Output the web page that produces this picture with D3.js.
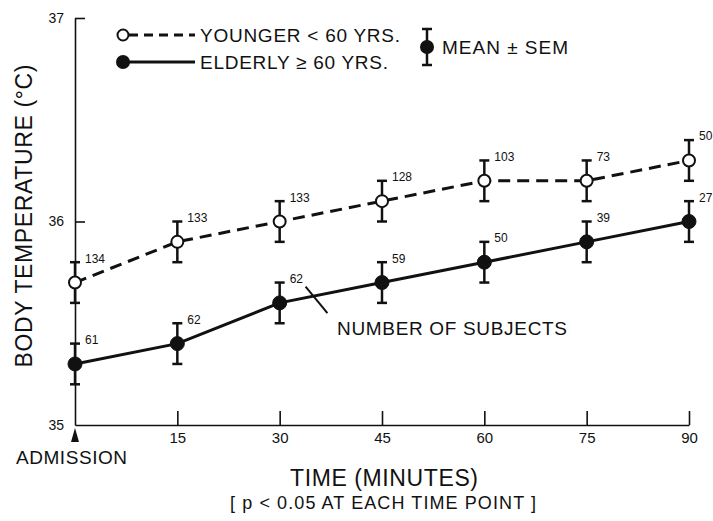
<!DOCTYPE html>
<html><head><meta charset="utf-8">
<script src="https://cdn.jsdelivr.net/npm/d3@7"></script>
<style>
body{margin:0;background:#fff}
text{font-family:"Liberation Sans",Arial,Helvetica,sans-serif;fill:#111}
</style>
</head><body><svg id="c" width="713" height="521"></svg>
<script>
const times = [0, 15, 30, 45, 60, 75, 90];
const xTickLabels = ["", "15", "30", "45", "60", "75", "90"];
const yTicks = [35, 36, 37];
const youngerMean = [35.7, 35.9, 36.0, 36.1, 36.2, 36.2, 36.3];
const youngerSem  = [0.1, 0.1, 0.1, 0.1, 0.1, 0.1, 0.1];
const youngerN    = [134, 133, 133, 128, 103, 73, 50];
const elderlyMean = [35.3, 35.4, 35.6, 35.7, 35.8, 35.9, 36.0];
const elderlySem  = [0.1, 0.1, 0.1, 0.1, 0.1, 0.1, 0.1];
const elderlyN    = [61, 62, 62, 59, 50, 39, 27];

const svg = d3.select("#c");
const ink = "#111";
const x = d3.scaleLinear().domain([0, 90]).range([75, 689]);
const y = d3.scaleLinear().domain([35, 37]).range([425, 18]);

// axes
const xAxis = d3.axisBottom(x).tickValues(times)
  .tickFormat((d, i) => xTickLabels[i]).tickSizeInner(-14).tickSizeOuter(0).tickPadding(7);
const gx = svg.append("g").attr("transform", `translate(0,${y(35)})`).call(xAxis);
gx.selectAll("text").attr("font-size", 15).attr("fill", ink);
gx.selectAll("line,path").attr("stroke", ink).attr("stroke-width", 1.6);
gx.selectAll(".tick").filter(d => d === 0).select("line").remove();

const yAxis = d3.axisLeft(y).tickValues(yTicks).tickFormat(d3.format("d"))
  .tickSizeInner(-10).tickSizeOuter(0).tickPadding(11);
const gy = svg.append("g").attr("transform", `translate(${x(0)},0)`).call(yAxis);
gy.selectAll("text").attr("font-size", 14).attr("fill", ink);
gy.selectAll("line,path").attr("stroke", ink).attr("stroke-width", 1.6);
gy.selectAll(".tick").filter(d => d === 35).select("line").remove();

// admission arrow
svg.append("path")
  .attr("d", `M${x(0)},${y(35)+3} L${x(0)-4},${y(35)+17} L${x(0)+4},${y(35)+17} Z`)
  .attr("fill", ink);

const series = [
  {mean: youngerMean, sem: youngerSem, n: youngerN, dash: "12,7", open: true},
  {mean: elderlyMean, sem: elderlySem, n: elderlyN, dash: null, open: false}
];

const line = d3.line().x((d, i) => x(times[i])).y(d => y(d));

series.forEach(s => {
  svg.append("path").datum(s.mean).attr("d", line)
    .attr("fill", "none").attr("stroke", ink).attr("stroke-width", 3)
    .attr("stroke-dasharray", s.dash);
});

series.forEach(s => {
  const g = svg.append("g");
  s.mean.forEach((m, i) => {
    const cx = x(times[i]);
    const y1 = y(m - s.sem[i]), y2 = y(m + s.sem[i]);
    g.append("line").attr("x1", cx).attr("x2", cx).attr("y1", y1).attr("y2", y2)
      .attr("stroke", ink).attr("stroke-width", 2.5);
    [y1, y2].forEach(yy => g.append("line").attr("x1", cx - 5).attr("x2", cx + 5)
      .attr("y1", yy).attr("y2", yy).attr("stroke", ink).attr("stroke-width", 2.5));
    g.append("circle").attr("cx", cx).attr("cy", y(m))
      .attr("r", s.open ? 6 : 7)
      .attr("fill", s.open ? "#fff" : ink)
      .attr("stroke", ink).attr("stroke-width", s.open ? 2 : 1);
    g.append("text").attr("x", cx + 10).attr("y", y(m) - 20)
      .attr("font-size", 12).text(s.n[i]);
  });
});

function label(xx, yy, size, str, len, anchor) {
  return svg.append("text").attr("x", xx).attr("y", yy)
    .attr("dominant-baseline", "central").attr("text-anchor", anchor || "start")
    .attr("font-size", size).attr("textLength", len).attr("lengthAdjust", "spacing")
    .text(str);
}

// annotation
svg.append("line").attr("x1", x(33.8)).attr("y1", y(35.68)).attr("x2", x(37)).attr("y2", y(35.55))
  .attr("stroke", ink).attr("stroke-width", 2);
label(337, 328, 19, "NUMBER OF SUBJECTS", 230);

// legend
svg.append("line").attr("x1", 129).attr("x2", 195).attr("y1", 35).attr("y2", 35)
  .attr("stroke", ink).attr("stroke-width", 3).attr("stroke-dasharray", "9,6");
svg.append("circle").attr("cx", 123).attr("cy", 35).attr("r", 5.5)
  .attr("fill", "#fff").attr("stroke", ink).attr("stroke-width", 2);
label(200, 35, 19, "YOUNGER < 60 YRS.", 200);
svg.append("line").attr("x1", 123).attr("x2", 195).attr("y1", 62).attr("y2", 62)
  .attr("stroke", ink).attr("stroke-width", 3);
svg.append("circle").attr("cx", 123).attr("cy", 62).attr("r", 7).attr("fill", ink);
label(200, 62, 19, "ELDERLY \u2265 60 YRS.", 188);

// mean ± sem key
svg.append("line").attr("x1", 427).attr("x2", 427).attr("y1", 29).attr("y2", 65)
  .attr("stroke", ink).attr("stroke-width", 2.5);
[29, 65].forEach(yy => svg.append("line").attr("x1", 422).attr("x2", 432)
  .attr("y1", yy).attr("y2", yy).attr("stroke", ink).attr("stroke-width", 2.5));
svg.append("circle").attr("cx", 427).attr("cy", 47).attr("r", 7).attr("fill", ink);
label(442, 47, 19, "MEAN \u00B1 SEM", 126);

// axis titles
svg.append("text").attr("transform", "translate(24,216) rotate(-90)")
  .attr("text-anchor", "middle").attr("dominant-baseline", "central")
  .attr("font-size", 23).attr("textLength", 303).attr("lengthAdjust", "spacing")
  .text("BODY TEMPERATURE (\u00B0C)");
label(16, 457, 19, "ADMISSION", 111);
label(290, 478, 23, "TIME (MINUTES)", 188);
label(230, 503, 18, "[ p < 0.05 AT EACH TIME POINT ]", 306);
</script>
</body></html>
